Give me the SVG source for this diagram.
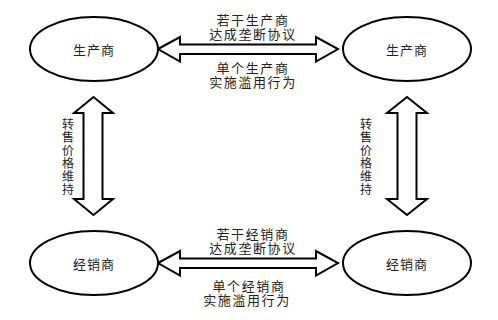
<svg xmlns="http://www.w3.org/2000/svg" width="498" height="320" viewBox="0 0 498 320">
<style>
.node{fill:#fff;stroke:#000;stroke-width:2}
.arr{fill:#fff;stroke:#000;stroke-width:2;stroke-linejoin:miter}
text{font-family:"Noto Sans CJK SC","Noto Sans",sans-serif;fill:#222;text-anchor:middle;dominant-baseline:central}
.lbl{font-size:13px;letter-spacing:1px}
.hl{font-size:13px;letter-spacing:1.6px}
.vl{font-size:12px}
</style>
<rect width="498" height="320" fill="#fff"/>
<g id="connectors">
<polygon class="arr" points="158,49 180,37 180,44.5 316,44.5 316,37 338,49 316,61.5 316,54 180,54 180,61.5"/>
<polygon class="arr" points="158,263 180,251 180,258.5 316,258.5 316,251 338,263 316,275.5 316,268 180,268 180,275.5"/>
<polygon class="arr" points="93.5,97 113,113 102.5,113 102.5,199 113,199 93.5,215 74,199 83.5,199 83.5,113 74,113"/>
<polygon class="arr" points="407,97 427,113 416.5,113 416.5,199 427,199 407,215 387,199 397.5,199 397.5,113 387,113"/>
<text class="hl" x="253" y="19">若干生产商</text>
<text class="hl" x="253" y="33">达成垄断协议</text>
<text class="hl" x="253" y="67">单个生产商</text>
<text class="hl" x="253" y="81">实施滥用行为</text>
<text class="hl" x="253" y="233">若干经销商</text>
<text class="hl" x="253" y="247">达成垄断协议</text>
<text class="hl" x="249" y="285">单个经销商</text>
<text class="hl" x="247" y="299">实施滥用行为</text>
<g class="vl">
<text x="68" y="123">转</text><text x="68" y="136">售</text><text x="68" y="149">价</text><text x="68" y="162">格</text><text x="68" y="175">维</text><text x="68" y="188">持</text>
<text x="366" y="123">转</text><text x="366" y="136">售</text><text x="366" y="149">价</text><text x="366" y="162">格</text><text x="366" y="175">维</text><text x="366" y="188">持</text>
</g>
</g>
<g id="producer-left"><ellipse class="node" cx="94" cy="49" rx="64" ry="32"/><text class="lbl" x="94" y="49">生产商</text></g>
<g id="producer-right"><ellipse class="node" cx="407" cy="49" rx="64" ry="32"/><text class="lbl" x="407" y="49">生产商</text></g>
<g id="dealer-left"><ellipse class="node" cx="94" cy="263" rx="64" ry="32"/><text class="lbl" x="94" y="263">经销商</text></g>
<g id="dealer-right"><ellipse class="node" cx="407" cy="263" rx="64" ry="32"/><text class="lbl" x="407" y="263">经销商</text></g>
</svg>
